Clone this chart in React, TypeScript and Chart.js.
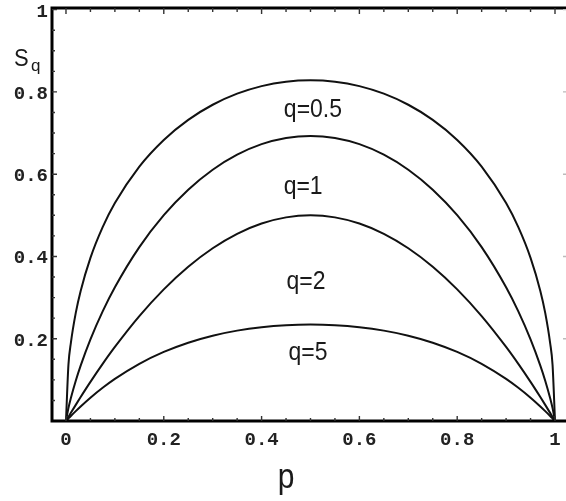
import React, { useEffect, useRef } from "react";
import { Chart, registerables } from "chart.js";

Chart.register(...registerables);

const pValues = [0, 0.005, 0.01, 0.02, 0.03, 0.05, 0.075, 0.1, 0.15, 0.2, 0.25, 0.3, 0.35, 0.4, 0.45, 0.5, 0.55, 0.6, 0.65, 0.7, 0.75, 0.8, 0.85, 0.9, 0.925, 0.95, 0.97, 0.98, 0.99, 0.995, 1];

const sQ05 = [0, 0.1364, 0.19, 0.2627, 0.3162, 0.3966, 0.4713, 0.5298, 0.6185, 0.6833, 0.7321, 0.7688, 0.7957, 0.8141, 0.8249, 0.8284, 0.8249, 0.8141, 0.7957, 0.7688, 0.7321, 0.6833, 0.6185, 0.5298, 0.4713, 0.3966, 0.3162, 0.2627, 0.19, 0.1364, 0];
const sQ1 = [0, 0.0315, 0.056, 0.098, 0.1347, 0.1985, 0.2664, 0.3251, 0.4227, 0.5004, 0.5623, 0.6109, 0.6475, 0.673, 0.6881, 0.6931, 0.6881, 0.673, 0.6475, 0.6109, 0.5623, 0.5004, 0.4227, 0.3251, 0.2664, 0.1985, 0.1347, 0.098, 0.056, 0.0315, 0];
const sQ2 = [0, 0.00995, 0.0198, 0.0392, 0.0582, 0.095, 0.1388, 0.18, 0.255, 0.32, 0.375, 0.42, 0.455, 0.48, 0.495, 0.5, 0.495, 0.48, 0.455, 0.42, 0.375, 0.32, 0.255, 0.18, 0.1388, 0.095, 0.0582, 0.0392, 0.0198, 0.00995, 0];
const sQ5 = [0, 0.0062, 0.0123, 0.024, 0.0353, 0.0566, 0.0807, 0.1024, 0.1391, 0.168, 0.1904, 0.2074, 0.2197, 0.228, 0.2328, 0.2344, 0.2328, 0.228, 0.2197, 0.2074, 0.1904, 0.168, 0.1391, 0.1024, 0.0807, 0.0566, 0.0353, 0.024, 0.0123, 0.0062, 0];

const seriesNames = ["q=0.5", "q=1", "q=2", "q=5"];
const labelP = [0.505, 0.485, 0.491, 0.495];
const labelS = [0.739, 0.552, 0.321, 0.148];

const xMajorTicks = [0, 0.2, 0.4, 0.6, 0.8, 1];
const xTickLabels = ["0", "0.2", "0.4", "0.6", "0.8", "1"];
const xMinorTicks = [0.05, 0.1, 0.15, 0.25, 0.3, 0.35, 0.45, 0.5, 0.55, 0.65, 0.7, 0.75, 0.85, 0.9, 0.95];
const yMajorTicks = [0.2, 0.4, 0.6, 0.8, 1];
const yTickLabels = ["0.2", "0.4", "0.6", "0.8", "1"];
const yMinorTicks = [0.05, 0.1, 0.15, 0.25, 0.3, 0.35, 0.45, 0.5, 0.55, 0.65, 0.7, 0.75, 0.85, 0.9, 0.95];

const xAxisTitle = "p";
const yAxisTitle = "S";
const yAxisSub = "q";

const framePlugin = {
  id: "framePlugin",
  afterDraw(chart: any) {
    const ctx = chart.ctx as CanvasRenderingContext2D;
    const xs = chart.scales.x;
    const ys = chart.scales.y;
    const area = chart.chartArea;
    ctx.save();
    // frame
    ctx.strokeStyle = "#000";
    ctx.lineWidth = 3;
    ctx.beginPath();
    ctx.moveTo(area.left, area.top - 1);
    ctx.lineTo(area.left, area.bottom + 1.5);
    ctx.moveTo(area.left - 1.5, area.top);
    ctx.lineTo(area.right, area.top);
    ctx.moveTo(area.left - 1.5, area.bottom);
    ctx.lineTo(area.right, area.bottom);
    ctx.stroke();

    // ticks
    ctx.strokeStyle = "#333";
    ctx.lineWidth = 1.4;
    ctx.beginPath();
    const vx = (v: number, len: number) => {
      const px = xs.getPixelForValue(v);
      ctx.moveTo(px, area.bottom);
      ctx.lineTo(px, area.bottom - len);
      ctx.moveTo(px, area.top);
      ctx.lineTo(px, area.top + len + 1);
    };
    xMajorTicks.forEach((v) => vx(v, 5));
    xMinorTicks.forEach((v) => vx(v, 3));
    const vy = (v: number, len: number) => {
      const py = ys.getPixelForValue(v);
      ctx.moveTo(area.left, py);
      ctx.lineTo(area.left + len, py);
    };
    yMajorTicks.forEach((v) => vy(v, 5));
    yMinorTicks.forEach((v) => vy(v, 3));
    ctx.stroke();
    ctx.strokeStyle = "#bbb";
    ctx.beginPath();
    yMajorTicks.forEach((v) => {
      const py = ys.getPixelForValue(v);
      ctx.moveTo(area.right, py);
      ctx.lineTo(area.right - 3, py);
    });
    ctx.stroke();

    // tick labels
    ctx.fillStyle = "#222";
    ctx.font = "bold 19px 'Liberation Mono', monospace";
    ctx.textBaseline = "alphabetic";
    ctx.textAlign = "center";
    xMajorTicks.forEach((v, i) => {
      ctx.fillText(xTickLabels[i], xs.getPixelForValue(v), area.bottom + 24);
    });
    ctx.textAlign = "right";
    yMajorTicks.forEach((v, i) => {
      ctx.fillText(yTickLabels[i], area.left - 4, ys.getPixelForValue(v) + 7);
    });

    // curve labels
    ctx.fillStyle = "#1a1a1a";
    ctx.font = "23px 'Liberation Sans', Arial, sans-serif";
    ctx.textAlign = "center";
    seriesNames.forEach((name, i) => {
      const px = xs.getPixelForValue(labelP[i]);
      const py = ys.getPixelForValue(labelS[i]);
      ctx.save();
      ctx.translate(px, py);
      ctx.scale(1, 1.14);
      ctx.fillText(name, 0, 0);
      ctx.restore();
    });

    // axis titles
    ctx.save();
    ctx.font = "30px 'Liberation Sans', Arial, sans-serif";
    ctx.textAlign = "center";
    ctx.translate(286, 488);
    ctx.scale(1, 1.15);
    ctx.fillText(xAxisTitle, 0, 0);
    ctx.restore();

    ctx.textAlign = "left";
    ctx.save();
    ctx.font = "22px 'Liberation Sans', Arial, sans-serif";
    ctx.translate(14, 66);
    ctx.scale(1, 1.12);
    ctx.fillText(yAxisTitle, 0, 0);
    ctx.restore();
    ctx.font = "17px 'Liberation Sans', Arial, sans-serif";
    ctx.fillText(yAxisSub, 31, 71);
    ctx.restore();
  },
};

export default function App() {
  const ref = useRef<HTMLCanvasElement | null>(null);
  useEffect(() => {
    document.body.style.margin = "0";
    const canvas = ref.current!;
    const series = [sQ05, sQ1, sQ2, sQ5];
    const chart = new Chart(canvas, {
      type: "line",
      data: {
        datasets: series.map((s, i) => ({
          label: seriesNames[i],
          data: pValues.map((p, j) => ({ x: p, y: s[j] })),
          borderColor: "#111",
          borderWidth: 2,
          pointRadius: 0,
          fill: false,
          cubicInterpolationMode: "monotone" as const,
        })),
      },
      options: {
        responsive: false,
        animation: false,
        devicePixelRatio: 1,
        layout: { padding: { left: 52, right: 0, top: 8, bottom: 80 } },
        scales: {
          x: { type: "linear", min: -0.0286, max: 1.0225, display: false },
          y: { type: "linear", min: 0, max: 1.004, display: false },
        },
        plugins: { legend: { display: false }, tooltip: { enabled: false } },
      },
      plugins: [framePlugin],
    });
    return () => chart.destroy();
  }, []);
  return (
    <div style={{ position: "absolute", left: 0, top: 0, width: 566, height: 501, background: "#fff" }}>
      <canvas ref={ref} width={566} height={501} />
    </div>
  );
}
